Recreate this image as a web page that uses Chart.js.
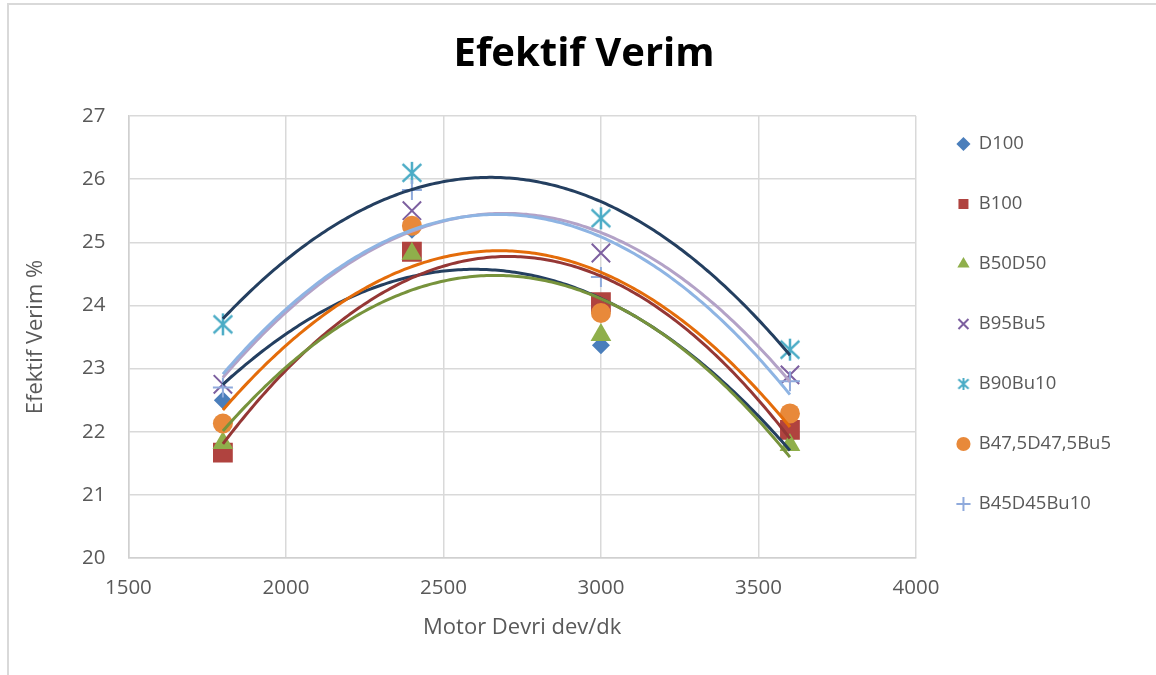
<!DOCTYPE html>
<html>
<head>
<meta charset="utf-8">
<script src="https://cdn.jsdelivr.net/npm/chart.js@4/dist/chart.umd.min.js"></script>
<style>
  html, body { margin: 0; padding: 0; background: #fff; }
  #frame { position: absolute; left: 7px; top: 3px; width: 1200px; height: 720px; border: 2px solid #d9d9d9; }
  #wrap { position: absolute; left: 0; top: 0; width: 1156px; height: 675px; }
</style>
</head>
<body>
<div id="frame"></div>
<div id="wrap"><canvas id="chart" width="1156" height="675"></canvas></div>
<script>
// data
const rpm = [1800, 2400, 3000, 3600];
const seriesNames = ["D100", "B100", "B50D50", "B95Bu5", "B90Bu10", "B47,5D47,5Bu5", "B45D45Bu10"];
const d100 = [22.5, 25.2, 23.37, 21.95];
const b100 = [21.67, 24.85, 24.05, 22.03];
const b50d50 = [21.82, 24.82, 23.53, 21.79];
const b95bu5 = [22.75, 25.5, 24.83, 22.9];
const b90bu10 = [23.7, 26.1, 25.38, 23.3];
const b475d475bu5 = [22.13, 25.26, 23.88, 22.29];
const b45d45bu10 = [22.7, 25.83, 24.45, 22.8];
const xTicks = [1500, 4000, 500];
const yTicks = [20, 27, 1];

const seriesValues = [d100, b100, b50d50, b95bu5, b90bu10, b475d475bu5, b45d45bu10];

// styles
const markerColors = ["#4a7ebb", "#b0433f", "#8faf4b", "#7d60a0", "#4bacc6", "#e8893a", "#8faadc"];
const trendColors = ["#243f60", "#953735", "#77933c", "#b3a2c7", "#243f60", "#e46c0a", "#8eb4e3"];
const gray = "#595959";
const font = "'Open Sans', 'DejaVu Sans', sans-serif";

function asterisk(size, color, lw) {
  const c = document.createElement("canvas");
  c.width = size; c.height = size;
  const g = c.getContext("2d");
  const m = size / 2, r = size / 2 - 1;
  g.strokeStyle = color;
  g.lineWidth = lw;
  g.beginPath();
  g.moveTo(m, m - r); g.lineTo(m, m + r);
  g.moveTo(m - r * 0.85, m - r * 0.8); g.lineTo(m + r * 0.85, m + r * 0.8);
  g.moveTo(m + r * 0.85, m - r * 0.8); g.lineTo(m - r * 0.85, m + r * 0.8);
  g.stroke();
  return c;
}

const pointStyles = ["rectRot", "rect", "triangle", "crossRot", asterisk(24, markerColors[4], 2.5), "circle", "cross"];
const pointSizes = [9, 14, 12, 13, 10, 10, 10];
const legendStar = asterisk(14, markerColors[4], 2);

// Excel style polynomial (order 2) trendline
function quadFit(xs, ys) {
  const x0 = 2700, sc = 600;
  const S = [0, 0, 0, 0, 0], T = [0, 0, 0];
  xs.forEach((xv, i) => {
    const u = (xv - x0) / sc;
    for (let k = 0; k < 5; k++) S[k] += Math.pow(u, k);
    for (let k = 0; k < 3; k++) T[k] += ys[i] * Math.pow(u, k);
  });
  const M = [[S[0], S[1], S[2], T[0]], [S[1], S[2], S[3], T[1]], [S[2], S[3], S[4], T[2]]];
  for (let i = 0; i < 3; i++) {
    for (let j = i + 1; j < 3; j++) {
      const f = M[j][i] / M[i][i];
      for (let k = i; k < 4; k++) M[j][k] -= f * M[i][k];
    }
  }
  const c = [0, 0, 0];
  for (let i = 2; i >= 0; i--) {
    let s = M[i][3];
    for (let k = i + 1; k < 3; k++) s -= M[i][k] * c[k];
    c[i] = s / M[i][i];
  }
  return (xv) => {
    const u = (xv - x0) / sc;
    return c[0] + c[1] * u + c[2] * u * u;
  };
}

const trendPlugin = {
  id: "trendlines",
  afterDatasetsDraw(chart) {
    const { ctx, chartArea, scales } = chart;
    ctx.save();
    ctx.beginPath();
    ctx.rect(chartArea.left, chartArea.top, chartArea.width, chartArea.height);
    ctx.clip();
    ctx.lineWidth = 3;
    ctx.lineJoin = "round";
    chart.data.datasets.forEach((ds, i) => {
      const xs = ds.data.map((p) => p.x);
      const ys = ds.data.map((p) => p.y);
      const f = quadFit(xs, ys);
      const a = Math.min(...xs), b = Math.max(...xs);
      ctx.strokeStyle = trendColors[i];
      ctx.beginPath();
      for (let k = 0; k <= 200; k++) {
        const xv = a + (b - a) * k / 200;
        const px = scales.x.getPixelForValue(xv);
        const py = scales.y.getPixelForValue(f(xv));
        if (k === 0) ctx.moveTo(px, py); else ctx.lineTo(px, py);
      }
      ctx.stroke();
    });
    ctx.restore();
  }
};

const datasets = seriesNames.map((name, i) => ({
  label: name,
  data: rpm.map((r, j) => ({ x: r, y: seriesValues[i][j] })),
  showLine: false,
  pointStyle: pointStyles[i],
  pointRadius: pointSizes[i],
  pointHoverRadius: pointSizes[i],
  backgroundColor: markerColors[i],
  borderColor: markerColors[i],
  borderWidth: (i === 3 || i === 6) ? 2 : 0,
  order: seriesNames.length - i
}));

new Chart(document.getElementById("chart"), {
  type: "scatter",
  data: { datasets },
  plugins: [trendPlugin],
  options: {
    responsive: false,
    devicePixelRatio: 1,
    animation: false,
    layout: { padding: { left: 47, right: 35, top: 0, bottom: 27 } },
    plugins: {
      tooltip: { enabled: false },
      title: {
        display: true,
        text: "Efektif Verim",
        color: "#000",
        font: { family: font, size: 40, weight: "bold" },
        padding: { top: 31, bottom: 37 }
      },
      legend: {
        position: "right",
        align: "center",
        labels: {
          usePointStyle: true,
          boxWidth: 12,
          boxHeight: 10,
          padding: 41.5,
          color: gray,
          font: { family: font, size: 18.5 },
          sort: (a, b) => a.datasetIndex - b.datasetIndex,
          generateLabels(chart) {
            const items = Chart.defaults.plugins.legend.labels.generateLabels(chart);
            items.forEach((it) => {
              if (it.datasetIndex === 4) it.pointStyle = legendStar;
            });
            return items;
          }
        }
      }
    },
    scales: {
      x: {
        type: "linear",
        min: xTicks[0],
        max: xTicks[1],
        ticks: {
          stepSize: xTicks[2],
          color: gray,
          font: { family: font, size: 20.5 },
          padding: 17.7,
          callback: (v) => String(v)
        },
        grid: { color: "#d9d9d9", lineWidth: 1.5, drawTicks: false },
        border: { color: "#d0d0d0", width: 1.5 },
        title: {
          display: true,
          text: "Motor Devri dev/dk",
          color: gray,
          font: { family: font, size: 22 },
          padding: { top: -3.2, bottom: 6.8 }
        }
      },
      y: {
        min: yTicks[0],
        max: yTicks[1],
        ticks: {
          stepSize: yTicks[2],
          color: gray,
          font: { family: font, size: 20.5 },
          padding: 23
        },
        grid: { color: "#d9d9d9", lineWidth: 1.5, drawTicks: false },
        border: { color: "#d0d0d0", width: 1.5 },
        title: {
          display: true,
          text: "Efektif Verim %",
          color: gray,
          font: { family: font, size: 22 },
          padding: { top: -24.45, bottom: 10 }
        }
      }
    }
  }
});
</script>
</body>
</html>
